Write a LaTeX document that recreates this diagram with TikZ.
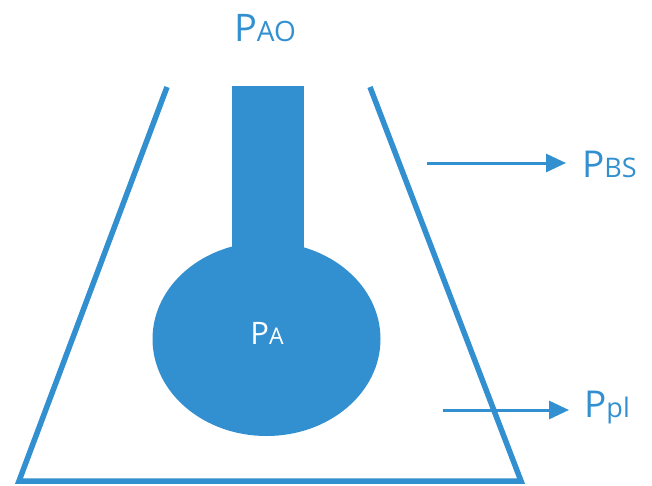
\documentclass[tikz,border=0pt]{standalone}
\usepackage{fontspec}
\setmainfont{Open Sans}
\usetikzlibrary{arrows.meta}
\definecolor{fblue}{RGB}{51,144,208}
\tikzset{
  wall/.style={draw=fblue, line width=5.5pt, line join=miter},
  flow/.style={draw=fblue, line width=3pt, -{Triangle[length=20pt,width=18pt]}},
  lbl/.style={text=fblue, inner sep=0pt},
}
\begin{document}
\begin{tikzpicture}[x=1pt,y=-1pt]
\useasboundingbox (0,0) rectangle (652,485);
% flask
\coordinate (tl) at (167,87);
\coordinate (tr) at (370,87);
\coordinate (bl) at (19,481);
\coordinate (br) at (521,481);
\draw[wall] (tl) -- (bl) -- (br) -- (tr);
% lung
\fill[fblue] (232,86) rectangle (304,260);
\fill[fblue] (266.5,339) ellipse [x radius=114, y radius=97];
% labels
\node[lbl] (pao) at (265,28) {\fontsize{38}{38}\selectfont P\fontsize{28}{28}\selectfont AO};
\node[text=white, inner sep=0pt] (pa) at (267,333) {\fontsize{31}{31}\selectfont P\fontsize{23}{23}\selectfont A};
\node[lbl, anchor=west] (pbs) at (582,164) {\fontsize{37}{37}\selectfont P\fontsize{27}{27}\selectfont BS};
\node[lbl, anchor=west] (ppl) at (584,408) {\fontsize{37}{37}\selectfont P\fontsize{27}{27}\selectfont pl};
% arrows
\coordinate (a1) at (427,163);
\coordinate (a2) at (443,410);
\draw[flow] (a1) -- (566,163) coordinate (a1e);
\draw[flow] (a2) -- (569,410) coordinate (a2e);
\end{tikzpicture}
\end{document}
